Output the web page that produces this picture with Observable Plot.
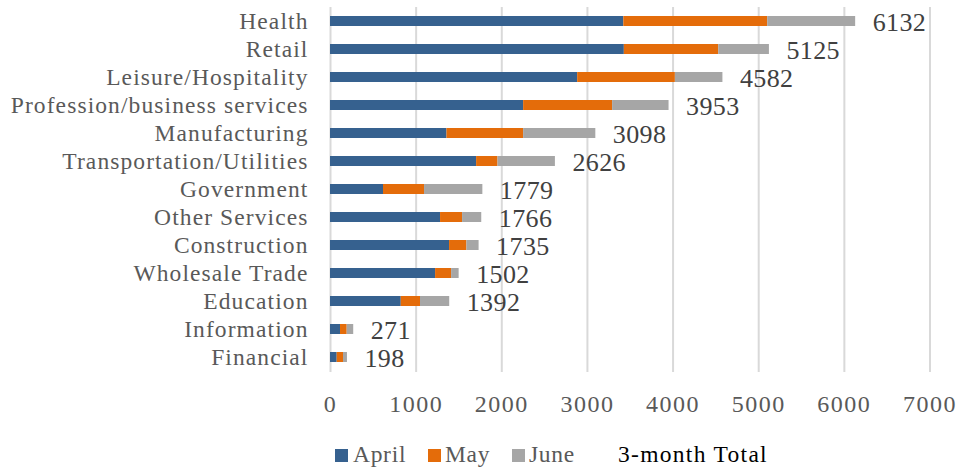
<!DOCTYPE html>
<html>
<head>
<meta charset="utf-8">
<script src="https://cdn.jsdelivr.net/npm/d3@7"></script>
<script src="https://cdn.jsdelivr.net/npm/@observablehq/plot@0.6"></script>
<style>
  html, body { margin: 0; padding: 0; background: #fff; }
  #wrap { width: 966px; position: relative; }
  #legend { position: relative; width: 966px; height: 40px; font-family: "Liberation Serif", serif; font-size: 23.5px; }
  .sw { position: absolute; width: 13px; height: 13px; top: 19px; }
  .lt { position: absolute; top: 12px; line-height: 24px; color: #595959; white-space: nowrap; letter-spacing: 0.7px; }
</style>
</head>
<body>
<div id="wrap"></div>
<script>
const categories = ["Health","Retail","Leisure/Hospitality","Profession/business services","Manufacturing","Transportation/Utilities","Government","Other Services","Construction","Wholesale Trade","Education","Information","Financial"];
const april = [3425,3431,2886,2255,1360,1706,619,1285,1390,1227,826,117,78];
const may   = [1680,1102,1141,1039,895,250,479,257,203,187,225,78,74];
const june  = [1027,592,555,659,843,670,681,224,142,88,341,76,46];
const totals = [6132,5125,4582,3953,3098,2626,1779,1766,1735,1502,1392,271,198];
const series = ["April","May","June"];
const colors = ["#36618f","#e46c0a","#a6a6a6"];
const xTicks = [0,1000,2000,3000,4000,5000,6000,7000];

const rows = [];
categories.forEach((c, i) => {
  rows.push({cat: c, month: "April", value: april[i]});
  rows.push({cat: c, month: "May", value: may[i]});
  rows.push({cat: c, month: "June", value: june[i]});
});
const totalRows = categories.map((c, i) => ({cat: c, total: totals[i]}));

const chart = Plot.plot({
  width: 966,
  height: 430,
  marginLeft: 330,
  marginRight: 36.5,
  marginTop: 7,
  marginBottom: 58,
  style: {fontFamily: "'Liberation Serif', serif", background: "#fff"},
  x: {domain: [0, 7000], ticks: xTicks, label: null},
  y: {domain: categories, paddingInner: 0.64, paddingOuter: 0.32, label: null},
  color: {domain: series, range: colors},
  marks: [
    Plot.ruleX(xTicks, {stroke: "#d9d9d9", strokeWidth: 2, strokeOpacity: 1}),
    Plot.axisX({ticks: xTicks, tickSize: 0, tickPadding: 22, fontSize: 24, color: "#595959", label: null, tickFormat: d => String(d)}),
    Plot.axisY({tickSize: 0, tickPadding: 22, fontSize: 23.5, color: "#595959", label: null}),
    Plot.barX(rows, Plot.stackX({x: "value", y: "cat", fill: "month", order: null})),
    Plot.text(totalRows, {x: "total", y: "cat", text: d => String(d.total), textAnchor: "start", dx: 17, dy: 1, fontSize: 26, fill: "#404040"})
  ]
});
d3.select(chart).selectAll('g[aria-label="y-axis tick label"] text').attr("letter-spacing", "1.1px");
d3.select(chart).selectAll('g[aria-label="x-axis tick label"] text').attr("letter-spacing", "1.5px");
d3.select(chart).selectAll('g[aria-label="text"] text').attr("letter-spacing", "0.4px");
document.getElementById("wrap").appendChild(chart);

const legend = document.createElement("div");
legend.id = "legend";
const items = [
  {label: series[0], color: colors[0], sx: 335, tx: 353},
  {label: series[1], color: colors[1], sx: 428, tx: 445},
  {label: series[2], color: colors[2], sx: 512, tx: 529}
];
items.forEach(it => {
  const s = document.createElement("div");
  s.className = "sw"; s.style.left = it.sx + "px"; s.style.background = it.color;
  legend.appendChild(s);
  const t = document.createElement("div");
  t.className = "lt"; t.style.left = it.tx + "px"; t.textContent = it.label;
  legend.appendChild(t);
});
const tot = document.createElement("div");
tot.className = "lt"; tot.style.left = "618px"; tot.style.color = "#000"; tot.style.letterSpacing = "1.3px"; tot.textContent = "3-month Total";
legend.appendChild(tot);
document.getElementById("wrap").appendChild(legend);
</script>
</body>
</html>
